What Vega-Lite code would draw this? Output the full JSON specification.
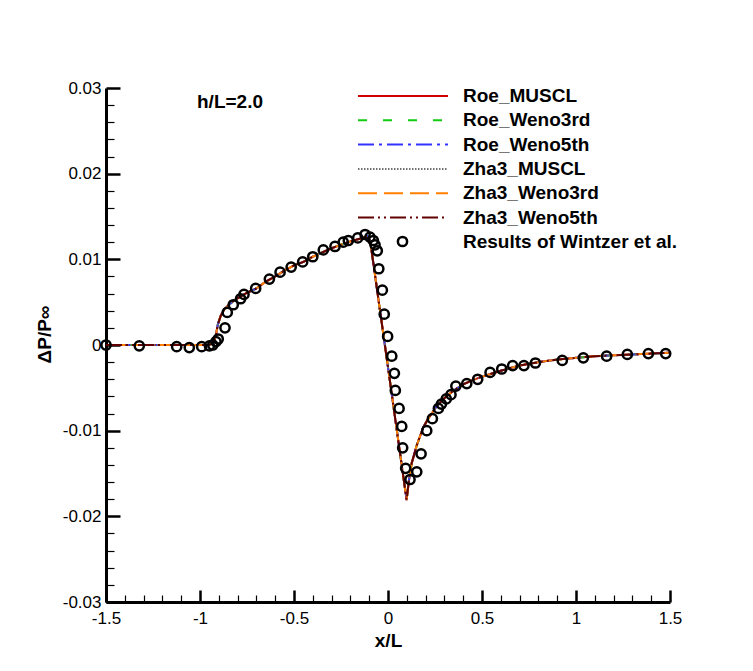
{
  "$schema": "https://vega.github.io/schema/vega-lite/v6.json",
  "width": 564,
  "height": 514,
  "autosize": {"type": "none"},
  "padding": {"left": 106, "top": 88, "right": 83, "bottom": 69},
  "background": "white",
  "config": {"view": {"stroke": null}, "font": "Liberation Sans"},
  "datasets": {
    "curve": [
      {"x": -1.5, "Roe_MUSCL": 0, "Roe_Weno3rd": 0, "Roe_Weno5th": 0, "Zha3_MUSCL": 0, "Zha3_Weno3rd": 0, "Zha3_Weno5th": 0},
      {"x": -1.2, "Roe_MUSCL": 0, "Roe_Weno3rd": 0, "Roe_Weno5th": 0, "Zha3_MUSCL": 0, "Zha3_Weno3rd": 0, "Zha3_Weno5th": 0},
      {"x": -0.96, "Roe_MUSCL": 0, "Roe_Weno3rd": 0, "Roe_Weno5th": 0, "Zha3_MUSCL": 0, "Zha3_Weno3rd": 0, "Zha3_Weno5th": 0},
      {"x": -0.94, "Roe_MUSCL": 0.0001, "Roe_Weno3rd": 0.0001, "Roe_Weno5th": 0.0001, "Zha3_MUSCL": 0.0001, "Zha3_Weno3rd": 0.0001, "Zha3_Weno5th": 0.0001},
      {"x": -0.925, "Roe_MUSCL": 0.0004, "Roe_Weno3rd": 0.0004, "Roe_Weno5th": 0.0004, "Zha3_MUSCL": 0.0004, "Zha3_Weno3rd": 0.0004, "Zha3_Weno5th": 0.0004},
      {"x": -0.915, "Roe_MUSCL": 0.0012, "Roe_Weno3rd": 0.0012, "Roe_Weno5th": 0.0012, "Zha3_MUSCL": 0.0012, "Zha3_Weno3rd": 0.0012, "Zha3_Weno5th": 0.0012},
      {"x": -0.905, "Roe_MUSCL": 0.0024, "Roe_Weno3rd": 0.0024, "Roe_Weno5th": 0.0024, "Zha3_MUSCL": 0.0024, "Zha3_Weno3rd": 0.0024, "Zha3_Weno5th": 0.0024},
      {"x": -0.89, "Roe_MUSCL": 0.0034, "Roe_Weno3rd": 0.0034, "Roe_Weno5th": 0.0034, "Zha3_MUSCL": 0.0034, "Zha3_Weno3rd": 0.0034, "Zha3_Weno5th": 0.0034},
      {"x": -0.87, "Roe_MUSCL": 0.0042, "Roe_Weno3rd": 0.0042, "Roe_Weno5th": 0.0042, "Zha3_MUSCL": 0.0042, "Zha3_Weno3rd": 0.0042, "Zha3_Weno5th": 0.0042},
      {"x": -0.85, "Roe_MUSCL": 0.0046, "Roe_Weno3rd": 0.0046, "Roe_Weno5th": 0.0046, "Zha3_MUSCL": 0.0046, "Zha3_Weno3rd": 0.0046, "Zha3_Weno5th": 0.0046},
      {"x": -0.82, "Roe_MUSCL": 0.0052, "Roe_Weno3rd": 0.0052, "Roe_Weno5th": 0.0052, "Zha3_MUSCL": 0.0052, "Zha3_Weno3rd": 0.0052, "Zha3_Weno5th": 0.0052},
      {"x": -0.78, "Roe_MUSCL": 0.0057, "Roe_Weno3rd": 0.0057, "Roe_Weno5th": 0.0057, "Zha3_MUSCL": 0.0057, "Zha3_Weno3rd": 0.0057, "Zha3_Weno5th": 0.0057},
      {"x": -0.75, "Roe_MUSCL": 0.0061, "Roe_Weno3rd": 0.0061, "Roe_Weno5th": 0.0061, "Zha3_MUSCL": 0.0061, "Zha3_Weno3rd": 0.0061, "Zha3_Weno5th": 0.0061},
      {"x": -0.7, "Roe_MUSCL": 0.0066, "Roe_Weno3rd": 0.0066, "Roe_Weno5th": 0.0066, "Zha3_MUSCL": 0.0066, "Zha3_Weno3rd": 0.0066, "Zha3_Weno5th": 0.0066},
      {"x": -0.65, "Roe_MUSCL": 0.0074, "Roe_Weno3rd": 0.0074, "Roe_Weno5th": 0.0074, "Zha3_MUSCL": 0.0074, "Zha3_Weno3rd": 0.0074, "Zha3_Weno5th": 0.0074},
      {"x": -0.6, "Roe_MUSCL": 0.008, "Roe_Weno3rd": 0.008, "Roe_Weno5th": 0.008, "Zha3_MUSCL": 0.008, "Zha3_Weno3rd": 0.008, "Zha3_Weno5th": 0.008},
      {"x": -0.55, "Roe_MUSCL": 0.0087, "Roe_Weno3rd": 0.0087, "Roe_Weno5th": 0.0087, "Zha3_MUSCL": 0.0087, "Zha3_Weno3rd": 0.0087, "Zha3_Weno5th": 0.0087},
      {"x": -0.5, "Roe_MUSCL": 0.0093, "Roe_Weno3rd": 0.0093, "Roe_Weno5th": 0.0093, "Zha3_MUSCL": 0.0093, "Zha3_Weno3rd": 0.0093, "Zha3_Weno5th": 0.0093},
      {"x": -0.45, "Roe_MUSCL": 0.0097, "Roe_Weno3rd": 0.0097, "Roe_Weno5th": 0.0097, "Zha3_MUSCL": 0.0097, "Zha3_Weno3rd": 0.0097, "Zha3_Weno5th": 0.0097},
      {"x": -0.4, "Roe_MUSCL": 0.0103, "Roe_Weno3rd": 0.0103, "Roe_Weno5th": 0.0103, "Zha3_MUSCL": 0.0103, "Zha3_Weno3rd": 0.0103, "Zha3_Weno5th": 0.0103},
      {"x": -0.35, "Roe_MUSCL": 0.0108, "Roe_Weno3rd": 0.0108, "Roe_Weno5th": 0.0108, "Zha3_MUSCL": 0.0108, "Zha3_Weno3rd": 0.0108, "Zha3_Weno5th": 0.0108},
      {"x": -0.3, "Roe_MUSCL": 0.0113, "Roe_Weno3rd": 0.0113, "Roe_Weno5th": 0.0113, "Zha3_MUSCL": 0.0113, "Zha3_Weno3rd": 0.0113, "Zha3_Weno5th": 0.0113},
      {"x": -0.25, "Roe_MUSCL": 0.0117, "Roe_Weno3rd": 0.0117, "Roe_Weno5th": 0.0117, "Zha3_MUSCL": 0.0117, "Zha3_Weno3rd": 0.0117, "Zha3_Weno5th": 0.0117},
      {"x": -0.2, "Roe_MUSCL": 0.0121, "Roe_Weno3rd": 0.0121, "Roe_Weno5th": 0.0121, "Zha3_MUSCL": 0.0121, "Zha3_Weno3rd": 0.0121, "Zha3_Weno5th": 0.0121},
      {"x": -0.15, "Roe_MUSCL": 0.0124, "Roe_Weno3rd": 0.0124, "Roe_Weno5th": 0.0124, "Zha3_MUSCL": 0.0124, "Zha3_Weno3rd": 0.0124, "Zha3_Weno5th": 0.0124},
      {"x": -0.11, "Roe_MUSCL": 0.0127, "Roe_Weno3rd": 0.0127, "Roe_Weno5th": 0.0127, "Zha3_MUSCL": 0.0127, "Zha3_Weno3rd": 0.0127, "Zha3_Weno5th": 0.0127},
      {"x": -0.095, "Roe_MUSCL": 0.0122, "Roe_Weno3rd": 0.0122, "Roe_Weno5th": 0.0122, "Zha3_MUSCL": 0.0122, "Zha3_Weno3rd": 0.0122, "Zha3_Weno5th": 0.0122},
      {"x": 0, "Roe_MUSCL": -0.0026, "Roe_Weno3rd": -0.0026, "Roe_Weno5th": -0.0026, "Zha3_MUSCL": -0.0026, "Zha3_Weno3rd": -0.0026, "Zha3_Weno5th": -0.0026},
      {"x": 0.099, "Roe_MUSCL": -0.0181, "Roe_Weno3rd": -0.0181, "Roe_Weno5th": -0.0181, "Zha3_MUSCL": -0.0181, "Zha3_Weno3rd": -0.0181, "Zha3_Weno5th": -0.0181},
      {"x": 0.11, "Roe_MUSCL": -0.016, "Roe_Weno3rd": -0.016, "Roe_Weno5th": -0.016, "Zha3_MUSCL": -0.016, "Zha3_Weno3rd": -0.016, "Zha3_Weno5th": -0.016},
      {"x": 0.126, "Roe_MUSCL": -0.0138, "Roe_Weno3rd": -0.0138, "Roe_Weno5th": -0.0138, "Zha3_MUSCL": -0.0138, "Zha3_Weno3rd": -0.0138, "Zha3_Weno5th": -0.0138},
      {"x": 0.153, "Roe_MUSCL": -0.0117, "Roe_Weno3rd": -0.0117, "Roe_Weno5th": -0.0117, "Zha3_MUSCL": -0.0117, "Zha3_Weno3rd": -0.0117, "Zha3_Weno5th": -0.0117},
      {"x": 0.188, "Roe_MUSCL": -0.0096, "Roe_Weno3rd": -0.0096, "Roe_Weno5th": -0.0096, "Zha3_MUSCL": -0.0096, "Zha3_Weno3rd": -0.0096, "Zha3_Weno5th": -0.0096},
      {"x": 0.214, "Roe_MUSCL": -0.0086, "Roe_Weno3rd": -0.0086, "Roe_Weno5th": -0.0086, "Zha3_MUSCL": -0.0086, "Zha3_Weno3rd": -0.0086, "Zha3_Weno5th": -0.0086},
      {"x": 0.26, "Roe_MUSCL": -0.0071, "Roe_Weno3rd": -0.0071, "Roe_Weno5th": -0.0071, "Zha3_MUSCL": -0.0071, "Zha3_Weno3rd": -0.0071, "Zha3_Weno5th": -0.0071},
      {"x": 0.3, "Roe_MUSCL": -0.0062, "Roe_Weno3rd": -0.0062, "Roe_Weno5th": -0.0062, "Zha3_MUSCL": -0.0062, "Zha3_Weno3rd": -0.0062, "Zha3_Weno5th": -0.0062},
      {"x": 0.35, "Roe_MUSCL": -0.0053, "Roe_Weno3rd": -0.0053, "Roe_Weno5th": -0.0053, "Zha3_MUSCL": -0.0053, "Zha3_Weno3rd": -0.0053, "Zha3_Weno5th": -0.0053},
      {"x": 0.4, "Roe_MUSCL": -0.0046, "Roe_Weno3rd": -0.0046, "Roe_Weno5th": -0.0046, "Zha3_MUSCL": -0.0046, "Zha3_Weno3rd": -0.0046, "Zha3_Weno5th": -0.0046},
      {"x": 0.45, "Roe_MUSCL": -0.0041, "Roe_Weno3rd": -0.0041, "Roe_Weno5th": -0.0041, "Zha3_MUSCL": -0.0041, "Zha3_Weno3rd": -0.0041, "Zha3_Weno5th": -0.0041},
      {"x": 0.5, "Roe_MUSCL": -0.0037, "Roe_Weno3rd": -0.0037, "Roe_Weno5th": -0.0037, "Zha3_MUSCL": -0.0037, "Zha3_Weno3rd": -0.0037, "Zha3_Weno5th": -0.0037},
      {"x": 0.6, "Roe_MUSCL": -0.003, "Roe_Weno3rd": -0.003, "Roe_Weno5th": -0.003, "Zha3_MUSCL": -0.003, "Zha3_Weno3rd": -0.003, "Zha3_Weno5th": -0.003},
      {"x": 0.7, "Roe_MUSCL": -0.0024, "Roe_Weno3rd": -0.0024, "Roe_Weno5th": -0.0024, "Zha3_MUSCL": -0.0024, "Zha3_Weno3rd": -0.0024, "Zha3_Weno5th": -0.0024},
      {"x": 0.8, "Roe_MUSCL": -0.002, "Roe_Weno3rd": -0.002, "Roe_Weno5th": -0.002, "Zha3_MUSCL": -0.002, "Zha3_Weno3rd": -0.002, "Zha3_Weno5th": -0.002},
      {"x": 0.9, "Roe_MUSCL": -0.0017, "Roe_Weno3rd": -0.0017, "Roe_Weno5th": -0.0017, "Zha3_MUSCL": -0.0017, "Zha3_Weno3rd": -0.0017, "Zha3_Weno5th": -0.0017},
      {"x": 1.0, "Roe_MUSCL": -0.0015, "Roe_Weno3rd": -0.0015, "Roe_Weno5th": -0.0015, "Zha3_MUSCL": -0.0015, "Zha3_Weno3rd": -0.0015, "Zha3_Weno5th": -0.0015},
      {"x": 1.1, "Roe_MUSCL": -0.0013, "Roe_Weno3rd": -0.0013, "Roe_Weno5th": -0.0013, "Zha3_MUSCL": -0.0013, "Zha3_Weno3rd": -0.0013, "Zha3_Weno5th": -0.0013},
      {"x": 1.2, "Roe_MUSCL": -0.0012, "Roe_Weno3rd": -0.0012, "Roe_Weno5th": -0.0012, "Zha3_MUSCL": -0.0012, "Zha3_Weno3rd": -0.0012, "Zha3_Weno5th": -0.0012},
      {"x": 1.3, "Roe_MUSCL": -0.0011, "Roe_Weno3rd": -0.0011, "Roe_Weno5th": -0.0011, "Zha3_MUSCL": -0.0011, "Zha3_Weno3rd": -0.0011, "Zha3_Weno5th": -0.0011},
      {"x": 1.4, "Roe_MUSCL": -0.001, "Roe_Weno3rd": -0.001, "Roe_Weno5th": -0.001, "Zha3_MUSCL": -0.001, "Zha3_Weno3rd": -0.001, "Zha3_Weno5th": -0.001},
      {"x": 1.5, "Roe_MUSCL": -0.0009, "Roe_Weno3rd": -0.0009, "Roe_Weno5th": -0.0009, "Zha3_MUSCL": -0.0009, "Zha3_Weno3rd": -0.0009, "Zha3_Weno5th": -0.0009}
    ],
    "wintzer": [
      {"x": -1.5, "y": 0}, {"x": -1.323, "y": -0.0001}, {"x": -1.124, "y": -0.0002}, {"x": -1.057, "y": -0.0003},
      {"x": -0.991, "y": -0.0002}, {"x": -0.95, "y": -0.0001}, {"x": -0.932, "y": 0}, {"x": -0.915, "y": 0.0004},
      {"x": -0.903, "y": 0.0007}, {"x": -0.867, "y": 0.002}, {"x": -0.855, "y": 0.0038}, {"x": -0.823, "y": 0.0047},
      {"x": -0.784, "y": 0.0054}, {"x": -0.766, "y": 0.0059}, {"x": -0.704, "y": 0.0066}, {"x": -0.631, "y": 0.0077},
      {"x": -0.574, "y": 0.0085}, {"x": -0.515, "y": 0.0091}, {"x": -0.454, "y": 0.0097}, {"x": -0.4, "y": 0.0103},
      {"x": -0.344, "y": 0.0111}, {"x": -0.282, "y": 0.0115}, {"x": -0.238, "y": 0.012}, {"x": -0.211, "y": 0.0122},
      {"x": -0.161, "y": 0.0125}, {"x": -0.122, "y": 0.0129}, {"x": -0.096, "y": 0.0126}, {"x": -0.078, "y": 0.0122},
      {"x": -0.069, "y": 0.0117}, {"x": -0.057, "y": 0.011}, {"x": -0.049, "y": 0.0089}, {"x": -0.03, "y": 0.0064},
      {"x": -0.02, "y": 0.0036}, {"x": -0.002, "y": 0.001}, {"x": 0.02, "y": -0.0013}, {"x": 0.034, "y": -0.0033},
      {"x": 0.039, "y": -0.0053}, {"x": 0.059, "y": -0.0074}, {"x": 0.073, "y": -0.0095}, {"x": 0.078, "y": -0.012},
      {"x": 0.094, "y": -0.0144}, {"x": 0.117, "y": -0.0157}, {"x": 0.153, "y": -0.0148}, {"x": 0.176, "y": -0.0127},
      {"x": 0.206, "y": -0.01}, {"x": 0.236, "y": -0.0086}, {"x": 0.268, "y": -0.0074}, {"x": 0.284, "y": -0.0069},
      {"x": 0.31, "y": -0.0063}, {"x": 0.335, "y": -0.0058}, {"x": 0.361, "y": -0.0048}, {"x": 0.419, "y": -0.0045},
      {"x": 0.477, "y": -0.004}, {"x": 0.543, "y": -0.0032}, {"x": 0.605, "y": -0.0028}, {"x": 0.663, "y": -0.0024},
      {"x": 0.723, "y": -0.0024}, {"x": 0.784, "y": -0.0021}, {"x": 0.927, "y": -0.0018}, {"x": 1.039, "y": -0.0015},
      {"x": 1.163, "y": -0.0013}, {"x": 1.273, "y": -0.0011}, {"x": 1.385, "y": -0.001}, {"x": 1.477, "y": -0.001}
    ]
  },
  "layer": [
    {
      "data": {"name": "curve"},
      "transform": [{"fold": ["Roe_MUSCL", "Roe_Weno3rd", "Roe_Weno5th", "Zha3_MUSCL", "Zha3_Weno3rd", "Zha3_Weno5th"], "as": ["series", "y"]}],
      "mark": {"type": "line", "strokeWidth": 2, "clip": true},
      "encoding": {
        "x": {"field": "x", "type": "quantitative", "scale": {"domain": [-1.5, 1.5], "nice": false, "zero": false},
          "axis": {"orient": "bottom", "tickCount": 100,
            "values": [-1.5, -1.4, -1.3, -1.2, -1.1, -1, -0.9, -0.8, -0.7, -0.6, -0.5, -0.4, -0.3, -0.2, -0.1, 0, 0.1, 0.2, 0.3, 0.4, 0.5, 0.6, 0.7, 0.8, 0.9, 1, 1.1, 1.2, 1.3, 1.4, 1.5],
            "labelExpr": "abs(datum.value * 2 - round(datum.value * 2)) < 0.001 ? '' + datum.value : ''",
            "ticks": false,
            "grid": true, "gridColor": "black", "gridOpacity": 1,
            "gridDash": {"condition": {"test": "abs(datum.value * 2 - round(datum.value * 2)) < 0.001", "value": [0, 502, 12, 3000]}, "value": [0, 507, 7, 3000]},
            "gridWidth": {"condition": {"test": "abs(datum.value * 2 - round(datum.value * 2)) < 0.001", "value": 2.5}, "value": 1.2},
            "title": "x/L", "titleFontSize": 19, "titleFontWeight": "bold", "titleColor": "black", "titleFont": "Liberation Sans",
            "titleY": 44, "titleBaseline": "alphabetic",
            "domainWidth": 3, "domainColor": "black",
            "labelFontSize": 17, "labelColor": "black", "labelFont": "Liberation Sans", "labelPadding": 8, "labelBaseline": "top",
            "labelFlush": false, "labelOverlap": false}},
        "y": {"field": "y", "type": "quantitative", "scale": {"domain": [-0.03, 0.03], "nice": false, "zero": false},
          "axis": {"orient": "left", "tickCount": 100,
            "values": [-0.03, -0.028, -0.026, -0.024, -0.022, -0.02, -0.018, -0.016, -0.014, -0.012, -0.01, -0.008, -0.006, -0.004, -0.002, 0, 0.002, 0.004, 0.006, 0.008, 0.01, 0.012, 0.014, 0.016, 0.018, 0.02, 0.022, 0.024, 0.026, 0.028, 0.03],
            "labelExpr": "abs(datum.value * 100 - round(datum.value * 100)) < 0.001 ? '' + datum.value : ''",
            "ticks": false,
            "grid": true, "gridColor": "black", "gridOpacity": 1,
            "gridDash": {"condition": {"test": "abs(datum.value * 100 - round(datum.value * 100)) < 0.001", "value": [14, 3000]}, "value": [8, 3000]},
            "gridWidth": {"condition": {"test": "abs(datum.value * 100 - round(datum.value * 100)) < 0.001", "value": 2.5}, "value": 1.2},
            "title": "ΔP/P∞", "titleFontSize": 19, "titleFontWeight": "bold", "titleColor": "black", "titleFont": "Liberation Sans",
            "titleAngle": 270, "titleX": -62, "titleY": 246, "titleBaseline": "middle", "titleAlign": "center",
            "domainWidth": 3, "domainColor": "black",
            "labelFontSize": 17, "labelColor": "black", "labelFont": "Liberation Sans", "labelPadding": 5, "labelBaseline": "middle",
            "labelFlush": false, "labelOverlap": false}},
        "color": {"field": "series", "type": "nominal",
          "scale": {"domain": ["Roe_MUSCL", "Roe_Weno3rd", "Roe_Weno5th", "Zha3_MUSCL", "Zha3_Weno3rd", "Zha3_Weno5th"],
            "range": ["#d00000", "#11cc11", "#3333ff", "#707070", "#ff8000", "#600000"]},
          "legend": {"title": null, "orient": "none", "legendX": 251, "legendY": -3, "symbolType": "stroke", "symbolSize": 8100,
            "symbolStrokeWidth": 2, "clipHeight": 22, "rowPadding": 2.3, "labelFontSize": 19, "labelFont": "Liberation Sans",
            "labelFontWeight": "bold", "labelColor": "black", "labelOffset": 14, "padding": 0, "labelLimit": 400}},
        "strokeDash": {"field": "series", "type": "nominal",
          "scale": {"domain": ["Roe_MUSCL", "Roe_Weno3rd", "Roe_Weno5th", "Zha3_MUSCL", "Zha3_Weno3rd", "Zha3_Weno5th"],
            "range": [[1, 0], [9, 16], [16, 5, 3, 5], [1.5, 1.5], [19, 7], [16, 4, 2, 4, 2, 4]]},
          "legend": {"title": null, "orient": "none", "legendX": 251, "legendY": -3, "symbolType": "stroke", "symbolSize": 8100,
            "symbolStrokeWidth": 2, "clipHeight": 22, "rowPadding": 2.3, "labelFontSize": 19, "labelFont": "Liberation Sans",
            "labelFontWeight": "bold", "labelColor": "black", "labelOffset": 14, "padding": 0, "labelLimit": 400}}
      }
    },
    {
      "data": {"name": "wintzer"},
      "mark": {"type": "point", "filled": false, "color": "black", "strokeWidth": 2.5, "size": 85, "opacity": 1},
      "encoding": {
        "x": {"field": "x", "type": "quantitative"},
        "y": {"field": "y", "type": "quantitative"},
        "shape": {"datum": "Results of Wintzer et al.", "type": "nominal", "scale": {"range": ["circle"]},
          "legend": {"title": null, "orient": "none", "legendX": 287, "legendY": 144, "symbolSize": 85, "symbolStrokeWidth": 2.5,
            "symbolStrokeColor": "black", "symbolFillColor": "transparent", "labelFontSize": 19, "labelFont": "Liberation Sans",
            "labelFontWeight": "bold", "labelColor": "black", "labelOffset": 51, "padding": 0, "labelLimit": 400}}
      }
    },
    {
      "data": {"values": [{"label": "h/L=2.0"}]},
      "mark": {"type": "text", "align": "left", "baseline": "middle", "fontSize": 19, "fontWeight": "bold", "font": "Liberation Sans", "color": "black"},
      "encoding": {
        "x": {"datum": -1.016, "type": "quantitative"},
        "y": {"datum": 0.0284, "type": "quantitative"},
        "text": {"field": "label"}
      }
    }
  ]
}
